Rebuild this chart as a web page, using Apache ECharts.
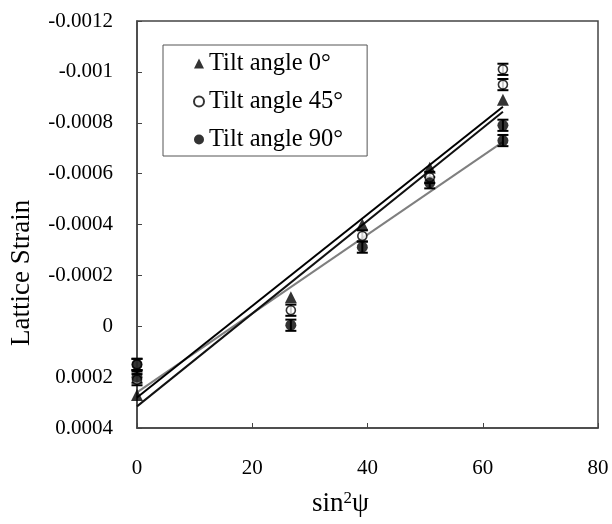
<!DOCTYPE html>
<html>
<head>
<meta charset="utf-8">
<script src="https://cdn.jsdelivr.net/npm/echarts@6/dist/echarts.min.js"></script>
<style>html,body{margin:0;padding:0;background:#fff}#c{width:612px;height:524px}</style>
</head>
<body>
<div id="c"></div>
<script>
// ---- data ----
var xTickLabels = ['0', '20', '40', '60', '80'];
var yTickLabels = ['-0.0012', '-0.001', '-0.0008', '-0.0006', '-0.0004', '-0.0002', '0', '0.0002', '0.0004'];
var seriesNames = ['Tilt angle 0\u00B0', 'Tilt angle 45\u00B0', 'Tilt angle 90\u00B0'];

// [sin^2 psi, strain]
var tilt0 = [[0, 0.00027], [26.7, -0.000114], [39.1, -0.000400], [50.8, -0.000623], [63.5, -0.00089]];
var tilt45 = [[0, 0.00015], [0, 0.00021], [26.7, -0.000063], [39.1, -0.000355], [50.8, -0.000585], [63.5, -0.00101], [63.5, -0.00095]];
var tilt90 = [[0, 0.00015], [0, 0.00020], [26.7, -0.000004], [39.1, -0.000311], [50.8, -0.000564], [63.5, -0.00079], [63.5, -0.00073]];
var errHalf = 0.000022;

// fitted lines, endpoints
var fit0 = [[0, 0.00028], [63.5, -0.000863]];
var fit45 = [[0, 0.000315], [63.5, -0.000843]];
var fit90 = [[0, 0.00026], [63.5, -0.000725]];

var FONT = '"Liberation Serif", "Times New Roman", serif';

function errData(arr) {
  return arr.map(function (p) { return [p[0], p[1], errHalf]; });
}
function errSeries(arr) {
  return {
    type: 'custom',
    silent: true,
    z: 3,
    data: errData(arr),
    renderItem: function (params, api) {
      var x = api.value(0), y = api.value(1), e = api.value(2);
      var a = api.coord([x, y - e]);
      var b = api.coord([x, y + e]);
      var hw = 5.5;
      var st = { stroke: '#000', lineWidth: 2 };
      return {
        type: 'group',
        children: [
          { type: 'line', shape: { x1: a[0], y1: a[1], x2: b[0], y2: b[1] }, style: st },
          { type: 'line', shape: { x1: a[0] - hw, y1: a[1], x2: a[0] + hw, y2: a[1] }, style: st },
          { type: 'line', shape: { x1: b[0] - hw, y1: b[1], x2: b[0] + hw, y2: b[1] }, style: st }
        ]
      };
    }
  };
}
function fitSeries(d, color) {
  return {
    type: 'line', data: d, symbol: 'none', silent: true, z: 2,
    lineStyle: { color: color, width: 2 }
  };
}

var chart = echarts.init(document.getElementById('c'), null, { renderer: 'canvas' });
chart.setOption({
  animation: false,
  backgroundColor: '#fff',
  grid: { left: 137, top: 21, right: 14, bottom: 96, show: true, borderColor: '#444', borderWidth: 1.5, containLabel: false },
  xAxis: {
    type: 'value', min: 0, max: 80, interval: 20,
    axisLine: { show: true, onZero: false, lineStyle: { color: '#444', width: 1.5 } },
    axisTick: { show: true, inside: true, length: 5, lineStyle: { color: '#444', width: 1 } },
    splitLine: { show: false },
    axisLabel: {
      margin: 30, color: '#000', fontFamily: FONT, fontSize: 21,
      formatter: function (v) { return xTickLabels[Math.round(v / 20)]; }
    }
  },
  yAxis: {
    type: 'value', min: -0.0012, max: 0.0004, interval: 0.0002, inverse: true,
    axisLine: { show: true, onZero: false, lineStyle: { color: '#444', width: 1.5 } },
    axisTick: { show: true, inside: true, length: 5, lineStyle: { color: '#444', width: 1 } },
    splitLine: { show: false },
    axisLabel: {
      margin: 24, color: '#000', fontFamily: FONT, fontSize: 21,
      formatter: function (v) { return yTickLabels[Math.round((v + 0.0012) / 0.0002)]; }
    }
  },
  legend: {
    orient: 'vertical', left: 163, top: 45,
    data: seriesNames,
    backgroundColor: '#fff',
    borderColor: '#555', borderWidth: 1,
    padding: [6, 24, 4, 30],
    itemGap: 13, itemWidth: 10, itemHeight: 10,
    textStyle: { fontFamily: FONT, fontSize: 24.5, color: '#000' }
  },
  graphic: [
    {
      type: 'text', rotation: Math.PI / 2,
      style: { text: 'Lattice Strain', font: '27px ' + FONT, fill: '#000' },
      position: [8, 346], origin: [0, 0]
    },
    {
      type: 'text', left: 312, top: 490,
      style: {
        text: '{a|sin}{b|2}{a|\u03C8}',
        rich: {
          a: { fontFamily: FONT, fontSize: 27, fill: '#000', verticalAlign: 'bottom' },
          b: { fontFamily: FONT, fontSize: 17, fill: '#000', verticalAlign: 'top', padding: [0, 0, 10, 0] }
        }
      }
    }
  ],
  series: [
    fitSeries(fit90, '#7f7f7f'),
    fitSeries(fit45, '#111'),
    fitSeries(fit0, '#000'),
    errSeries(tilt45),
    errSeries(tilt90),
    {
      name: seriesNames[0], type: 'scatter', data: tilt0, symbol: 'triangle', symbolSize: 12, z: 5,
      itemStyle: { color: '#000' }
    },
    {
      name: seriesNames[1], type: 'scatter', data: tilt45, symbol: 'circle', symbolSize: 9, z: 5,
      itemStyle: { color: '#fff', borderColor: '#000', borderWidth: 1.6 }
    },
    {
      name: seriesNames[2], type: 'scatter', data: tilt90, symbol: 'circle', symbolSize: 11, z: 5,
      itemStyle: { color: '#000' }
    }
  ]
});
</script>
</body>
</html>
